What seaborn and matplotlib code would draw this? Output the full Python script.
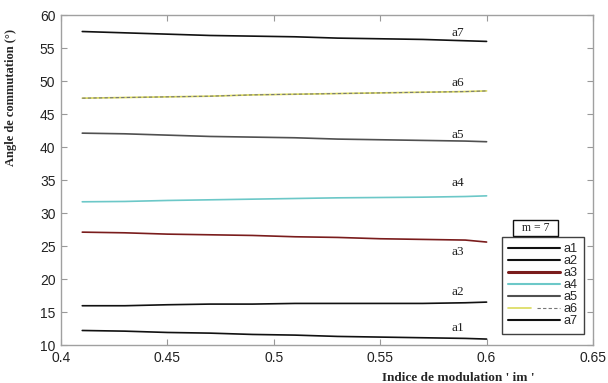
import numpy as np
import pandas as pd
import seaborn as sns
import matplotlib.pyplot as plt
from matplotlib.patches import Rectangle
from matplotlib.legend_handler import HandlerTuple

# modulation index and switching angles (deg), m = 7
im = [0.41, 0.43, 0.45, 0.47, 0.49, 0.51, 0.53, 0.55, 0.57, 0.59, 0.60]
a1 = [12.2, 12.1, 11.9, 11.8, 11.6, 11.5, 11.3, 11.2, 11.1, 11.0, 10.9]
a2 = [15.95, 15.95, 16.1, 16.2, 16.2, 16.3, 16.3, 16.3, 16.3, 16.4, 16.5]
a3 = [27.1, 27.0, 26.8, 26.7, 26.6, 26.4, 26.3, 26.1, 26.0, 25.9, 25.6]
a4 = [31.7, 31.75, 31.9, 32.0, 32.1, 32.2, 32.3, 32.35, 32.4, 32.5, 32.6]
a5 = [42.1, 42.0, 41.8, 41.6, 41.5, 41.4, 41.2, 41.1, 41.0, 40.9, 40.8]
a6 = [47.4, 47.5, 47.6, 47.7, 47.9, 48.0, 48.1, 48.2, 48.3, 48.4, 48.5]
a7 = [57.5, 57.3, 57.1, 56.9, 56.8, 56.7, 56.5, 56.4, 56.3, 56.1, 56.0]

names = ["a1", "a2", "a3", "a4", "a5", "a6", "a7"]
label_pos = [12.6, 18.0, 24.1, 34.5, 41.8, 49.7, 57.3]
colors = ["#111111", "#111111", "#7a1c1c", "#6cc8c8", "#505050", "#dada5a", "#111111"]


def main():
    sns.set_style("white")
    plt.rcParams["font.family"] = ["Liberation Sans", "DejaVu Sans"]

    series = [a1, a2, a3, a4, a5, a6, a7]
    df = pd.concat([pd.DataFrame({"im": im, "angle": s, "name": n})
                    for s, n in zip(series, names)])

    fig = plt.figure(figsize=(6.08, 3.83), dpi=100)
    ax = fig.add_axes([0.1003, 0.0992, 0.875, 0.8616])

    sns.lineplot(data=df, x="im", y="angle", hue="name", palette=colors,
                 linewidth=1.2, ax=ax, legend=True)
    # a6 has a dark dashed trace over the yellow one
    dash, = ax.plot(im, a6, color="#777777", lw=0.8, dashes=(3, 2))

    for n, y in zip(names, label_pos):
        ax.text(0.5866, y, n, family="Liberation Serif", fontsize=9.5,
                color="#222222", ha="center", va="center")

    ax.set_xlim(0.4, 0.65)
    ax.set_ylim(10, 60)
    ax.set_xticks([0.4, 0.45, 0.5, 0.55, 0.6, 0.65])
    ax.set_xticklabels(["0.4", "0.45", "0.5", "0.55", "0.6", "0.65"])
    ax.set_yticks(range(10, 61, 5))
    ax.tick_params(direction="in", length=4, width=0.8, color="#999999",
                   labelsize=10, labelcolor="#222222", pad=4,
                   top=True, right=True, bottom=True, left=True)
    for sp in ax.spines.values():
        sp.set_color("#a0a0a0")
        sp.set_linewidth(1.0)

    ax.set_xlabel("Indice de modulation ' im '", family="Liberation Serif",
                  fontweight="bold", fontsize=9.5)
    ax.set_ylabel("Angle de commutation (°)", family="Liberation Serif",
                  fontweight="bold", fontsize=9)
    ax.xaxis.set_label_coords(0.746, -0.083)
    ax.yaxis.set_label_coords(-0.082, 0.751)

    handles, labels = ax.get_legend_handles_labels()
    handles = list(handles[:7])
    handles[5] = (handles[5], dash)
    for h in handles:
        if not isinstance(h, tuple):
            h.set_linewidth(1.5)
    handles[2].set_linewidth(2.2)
    leg = ax.legend(handles, names, loc="upper left", bbox_to_anchor=(0.829, 0.327),
                    borderaxespad=0, fontsize=9.2, labelspacing=0.0,
                    handlelength=4.0, handletextpad=0.3, borderpad=0.5,
                    frameon=True, fancybox=False, edgecolor="#111111",
                    handler_map={tuple: HandlerTuple(ndivide=None)})
    leg.get_frame().set_linewidth(1.0)

    # legend title in its own box above the legend
    ax.add_patch(Rectangle((0.850, 0.330), 0.085, 0.049, transform=ax.transAxes,
                           fc="white", ec="#111111", lw=1.0, zorder=5))
    ax.text(0.8925, 0.3545, "m = 7", transform=ax.transAxes, family="Liberation Serif",
            fontsize=8.5, ha="center", va="center", zorder=6)

    fig.savefig("out.png", dpi=100)


main()
